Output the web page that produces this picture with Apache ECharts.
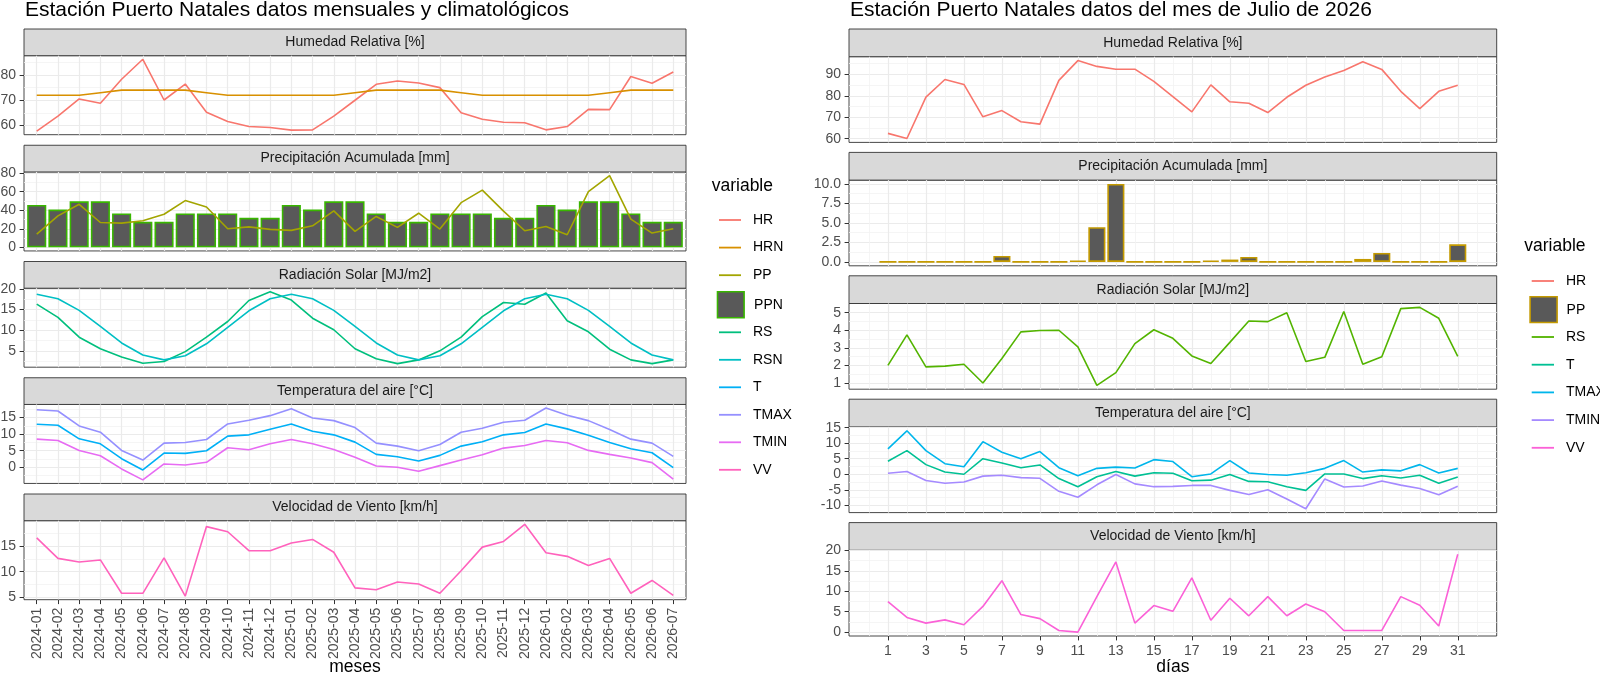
<!DOCTYPE html>
<html><head><meta charset="utf-8">
<script src="https://cdn.jsdelivr.net/npm/echarts@6/dist/echarts.min.js"></script>
<style>html,body{margin:0;padding:0;background:#fff}#c{width:1600px;height:676px}</style>
</head><body><div id="c"></div>
<script>
// ---------- DATA: monthly (left) ----------
const months = ['2024-01','2024-02','2024-03','2024-04','2024-05','2024-06','2024-07','2024-08','2024-09','2024-10','2024-11','2024-12',
  '2025-01','2025-02','2025-03','2025-04','2025-05','2025-06','2025-07','2025-08','2025-09','2025-10','2025-11','2025-12',
  '2026-01','2026-02','2026-03','2026-04','2026-05','2026-06','2026-07'];
const HR_m  = [57.8,63.7,70.5,68.8,78.3,86.2,70.1,76.4,65.3,61.6,59.6,59.2,58.2,58.3,63.7,70.0,76.3,77.6,76.8,75.0,65.1,62.5,61.3,61.1,58.3,59.6,66.4,66.3,79.4,76.7,81.2];
const HRN_m = [72,72,72,73,74,74,74,74,73,72,72,72,72,72,72,73,74,74,74,74,73,72,72,72,72,72,72,73,74,74,74];
const PP_m  = [14.3,33.9,46.4,26.8,26.1,28.6,35.7,50.4,43.5,20.0,22.1,19.4,18.3,23.2,39.3,17.2,33.3,21.5,36.8,19.7,48.2,61.7,39.0,17.9,22.5,13.6,60.0,77.4,30.4,15.4,20.0];
const PPN_m = [45.7,40.7,49.6,49.6,36.5,27.5,27.5,36.5,36.5,36.5,31.8,31.8,45.7,40.7,49.6,49.6,36.5,27.5,27.5,36.5,36.5,36.5,31.8,31.8,45.7,40.7,49.6,49.6,36.5,27.5,27.5];
const RS_m  = [16.3,13.1,8.3,5.5,3.5,2.0,2.4,4.8,8.3,12.1,17.2,19.3,17.3,12.9,10.1,5.5,3.1,1.9,2.8,5.0,8.3,13.3,16.7,16.3,19.0,12.3,9.6,5.4,2.8,1.9,2.8];
const RSN_m = [18.7,17.6,14.8,10.9,6.9,4.0,2.8,3.8,6.7,10.7,14.7,17.6,18.7,17.6,14.8,10.9,6.9,4.0,2.8,3.8,6.7,10.7,14.7,17.6,18.7,17.6,14.8,10.9,6.9,4.0,2.8];
const T_m    = [13.0,12.7,8.6,7.1,2.6,-0.8,4.3,4.2,5.0,9.4,9.8,11.5,13.1,10.9,9.8,7.6,3.9,3.2,1.9,3.6,6.4,7.7,9.8,10.5,13.1,11.6,9.7,7.5,5.6,4.4,-0.1];
const TMAX_m = [17.4,17.0,12.5,10.6,5.1,2.2,7.3,7.5,8.4,13.1,14.2,15.6,17.7,14.9,14.1,12.0,7.3,6.4,5.0,6.9,10.6,11.8,13.6,14.2,17.9,15.7,14.1,11.4,8.5,7.3,3.3];
const TMIN_m = [8.5,8.1,5.1,3.5,-0.5,-3.8,1.0,0.7,1.5,5.9,5.3,7.1,8.4,7.1,5.4,3.0,0.4,0.0,-1.2,0.5,2.2,3.8,5.8,6.6,8.1,7.4,5.1,3.9,2.8,1.4,-3.6];
const VV_m  = [16.6,12.6,11.9,12.3,5.8,5.8,12.7,5.25,18.8,17.8,14.1,14.1,15.6,16.3,13.8,6.85,6.5,8.0,7.6,5.8,10.2,14.8,15.9,19.25,13.7,13.0,11.2,12.6,5.8,8.3,5.4];

// ---------- DATA: daily (right) ----------
const days = [1,2,3,4,5,6,7,8,9,10,11,12,13,14,15,16,17,18,19,20,21,22,23,24,25,26,27,28,29,30,31];
const HR_d  = [62.5,60.1,79.4,87.6,85.3,70.2,73.1,67.9,66.8,87.2,96.4,93.7,92.4,92.4,86.7,79.6,72.5,85.1,77.2,76.5,72.2,79.3,84.9,88.8,91.8,95.9,92.3,82.1,74.0,82.1,84.9];
const PP_d  = [0,0,0,0,0,0,0.77,0,0,0,0.15,4.46,10.0,0,0,0,0,0.15,0.3,0.64,0,0,0,0,0,0.38,1.15,0,0,0,2.26];
const RS_d  = [2.0,3.74,1.92,1.96,2.07,1.0,2.39,3.91,3.99,4.0,3.05,0.87,1.59,3.24,4.03,3.54,2.54,2.11,3.31,4.53,4.49,5.0,2.22,2.46,5.07,2.07,2.49,5.23,5.3,4.68,2.52];
const T_d    = [4.2,7.6,3.1,0.7,0.0,5.0,3.6,2.1,3.0,-1.4,-4.0,-0.8,0.9,-0.6,0.5,0.3,-2.1,-1.9,-0.1,-2.3,-2.4,-4.0,-5.2,0.1,0.1,-1.4,-0.5,-1.2,-0.3,-2.9,-0.9];
const TMAX_d = [8.2,14.0,7.6,3.4,2.4,10.5,7.1,5.0,7.3,2.1,-0.5,1.9,2.3,2.0,4.7,4.1,-0.8,0.1,4.4,0.4,-0.1,-0.3,0.5,1.9,4.4,0.7,1.4,1.1,3.1,0.4,1.9];
const TMIN_d = [0.3,0.9,-2.0,-2.9,-2.5,-0.6,-0.3,-1.1,-1.3,-5.5,-7.4,-3.4,-0.1,-3.1,-4.0,-3.9,-3.6,-3.6,-5.2,-6.5,-5.0,-8.0,-11.1,-1.5,-4.1,-3.8,-2.2,-3.5,-4.6,-6.6,-3.9];
const VV_d  = [7.5,3.6,2.2,3.0,1.8,6.3,12.6,4.3,3.3,0.4,0.0,8.7,17.2,2.2,6.5,5.1,13.3,2.9,8.3,4.0,8.7,4.0,6.9,5.0,0.4,0.4,0.4,8.7,6.6,1.5,19.1];

// ---------- ticks ----------
const dayTicks  = [1,3,5,7,9,11,13,15,17,19,21,23,25,27,29,31];
const dayMinor  = [0,2,4,6,8,10,12,14,16,18,20,22,24,26,28,30,32];
const yTicksL = [[60,70,80],[0,20,40,60,80],[5,10,15,20],[0,5,10,15],[5,10,15]];
const yMinorL = [[55,65,75,85],[10,30,50,70],[2.5,7.5,12.5,17.5],[-2.5,2.5,7.5,12.5,17.5],[7.5,12.5,17.5]];
const yTicksR = [[60,70,80,90],[0,2.5,5,7.5,10],[1,2,3,4,5],[-10,-5,0,5,10,15],[0,5,10,15,20]];
const yMinorR = [[65,75,85,95],[1.25,3.75,6.25,8.75],[1.5,2.5,3.5,4.5],[-7.5,-2.5,2.5,7.5,12.5],[2.5,7.5,12.5,17.5]];
const stripText = ['Humedad Relativa [%]','Precipitación Acumulada [mm]','Radiación Solar [MJ/m2]','Temperatura del aire [°C]','Velocidad de Viento [km/h]'];

// ---------- layout ----------
const FONT = '"Liberation Sans", Arial, Helvetica, sans-serif';
const L = {x0:24, x1:686, s0:29, step:116.25, sh:26.7, ph:79};
const R = {x0:849, x1:1496.7, s0:29, step:123.4, sh:27.7, ph:85.7};
const MAJ = '#EBEBEB', MIN = '#F3F3F3';
const SMALL = 14;

function rng(arrs, zero){
  let lo = Infinity, hi = -Infinity;
  arrs.forEach(a => a.forEach(v => { lo = Math.min(lo, v); hi = Math.max(hi, v); }));
  if (zero) lo = Math.min(lo, 0);
  const r = hi - lo; return [lo - 0.05*r, hi + 0.05*r];
}

const grids = [], xAxis = [], yAxis = [], series = [], graphic = [];

function addPanel(P, k, xmin, xmax, xMajor, xMinor, xLabelFmt, bottom, yr, yMaj, yMin, yFmt, rotate){
  const gi = grids.length;
  const st = P.s0 + k*P.step;
  grids.push({left:P.x0, top:st+P.sh, width:P.x1-P.x0, height:P.ph, show:true,
    backgroundColor:'#FFFFFF', borderColor:'#333333', borderWidth:0.9, outerBoundsMode:'none', containLabel:false});
  graphic.push({type:'rect', shape:{x:P.x0, y:st, width:P.x1-P.x0, height:P.sh},
    style:{fill:'#D9D9D9', stroke:'#333333', lineWidth:0.9}, silent:true});
  graphic.push({type:'text', x:(P.x0+P.x1)/2, y:st+P.sh/2, silent:true,
    style:{text:stripText[k], fontSize:SMALL, fontFamily:FONT, fill:'#1A1A1A', align:'center', verticalAlign:'middle'}});
  const xi = xAxis.length;
  xAxis.push({type:'value', gridIndex:gi, min:xmin, max:xmax, position:'bottom',
    axisLine:{show:false, onZero:false},
    axisTick:{show:bottom, customValues:xMajor, length:4.4, lineStyle:{color:'#333333', width:1}},
    axisLabel:{show:bottom, customValues:xMajor, formatter:xLabelFmt, rotate:rotate, fontSize:SMALL, fontFamily:FONT, color:'#4D4D4D', margin:8},
    splitLine:{show:true, lineStyle:{color:MAJ, width:1.2}}});
  if (xMinor){
    xAxis.push({type:'value', gridIndex:gi, min:xmin, max:xmax, position:'top',
      axisLine:{show:false, onZero:false}, axisTick:{show:false, customValues:xMinor}, axisLabel:{show:false},
      splitLine:{show:true, lineStyle:{color:MIN, width:0.8}}});
  }
  const yi = yAxis.length;
  yAxis.push({type:'value', gridIndex:gi, min:yr[0], max:yr[1], position:'left',
    axisLine:{show:false, onZero:false},
    axisTick:{show:true, customValues:yMaj, length:4.4, lineStyle:{color:'#333333', width:1}},
    axisLabel:{customValues:yMaj, formatter:yFmt, fontSize:SMALL, fontFamily:FONT, color:'#4D4D4D', margin:8},
    splitLine:{show:true, lineStyle:{color:MAJ, width:1.2}}});
  yAxis.push({type:'value', gridIndex:gi, min:yr[0], max:yr[1], position:'right',
    axisLine:{show:false, onZero:false}, axisTick:{show:false, customValues:yMin}, axisLabel:{show:false},
    splitLine:{show:true, lineStyle:{color:MIN, width:0.8}}});
  return {xi, yi};
}

function line(name, ax, xs, vals, color){
  series.push({type:'line', name, xAxisIndex:ax.xi, yAxisIndex:ax.yi, data:vals.map((v,i)=>[xs[i], v]),
    symbol:'none', showSymbol:false, lineStyle:{width:1.6, color}, itemStyle:{color}, emphasis:{disabled:true}, silent:true, z:3});
}
function bar(name, ax, xs, vals, border, bw){
  series.push({type:'bar', name, xAxisIndex:ax.xi, yAxisIndex:ax.yi, data:vals.map((v,i)=>[xs[i], v]),
    barWidth:bw, itemStyle:{color:'#595959', borderColor:border, borderWidth:1.6}, emphasis:{disabled:true}, silent:true, z:2});
}

// ---- left panels ----
const mIdx = months.map((_, i) => i);
const mFmt = v => months[Math.round(v)];
const intFmt = v => String(v);
const lxmin = -0.6, lxmax = mIdx.length - 1 + 0.6;
const lbw = (L.x1 - L.x0) / (lxmax - lxmin) * 0.9;
let a;
a = addPanel(L, 0, lxmin, lxmax, mIdx, null, mFmt, false, rng([HR_m, HRN_m]), yTicksL[0], yMinorL[0], intFmt, 90);
line('HR', a, mIdx, HR_m, '#F8766D'); line('HRN', a, mIdx, HRN_m, '#D89000');
a = addPanel(L, 1, lxmin, lxmax, mIdx, null, mFmt, false, rng([PP_m, PPN_m], true), yTicksL[1], yMinorL[1], intFmt, 90);
bar('PPN', a, mIdx, PPN_m, '#39B600', lbw); line('PP', a, mIdx, PP_m, '#A3A500');
a = addPanel(L, 2, lxmin, lxmax, mIdx, null, mFmt, false, rng([RS_m, RSN_m]), yTicksL[2], yMinorL[2], intFmt, 90);
line('RS', a, mIdx, RS_m, '#00BF7D'); line('RSN', a, mIdx, RSN_m, '#00BFC4');
a = addPanel(L, 3, lxmin, lxmax, mIdx, null, mFmt, false, rng([T_m, TMAX_m, TMIN_m]), yTicksL[3], yMinorL[3], intFmt, 90);
line('T', a, mIdx, T_m, '#00B0F6'); line('TMAX', a, mIdx, TMAX_m, '#9590FF'); line('TMIN', a, mIdx, TMIN_m, '#E76BF3');
a = addPanel(L, 4, lxmin, lxmax, mIdx, null, mFmt, true, rng([VV_m]), yTicksL[4], yMinorL[4], intFmt, 90);
line('VV', a, mIdx, VV_m, '#FF62BC');

// ---- right panels ----
const rxmin = days[0] - 0.5 - 0.05*(days.length), rxmax = days[days.length-1] + 0.5 + 0.05*(days.length);
const rbw = (R.x1 - R.x0) / (rxmax - rxmin) * 0.9;
const fix1 = v => v.toFixed(1);
a = addPanel(R, 0, rxmin, rxmax, dayTicks, dayMinor, intFmt, false, rng([HR_d]), yTicksR[0], yMinorR[0], intFmt, 0);
line('HR_d', a, days, HR_d, '#F8766D');
a = addPanel(R, 1, rxmin, rxmax, dayTicks, dayMinor, intFmt, false, rng([PP_d], true), yTicksR[1], yMinorR[1], fix1, 0);
bar('PP_d', a, days, PP_d, '#C49A00', rbw);
a = addPanel(R, 2, rxmin, rxmax, dayTicks, dayMinor, intFmt, false, rng([RS_d]), yTicksR[2], yMinorR[2], intFmt, 0);
line('RS_d', a, days, RS_d, '#53B400');
a = addPanel(R, 3, rxmin, rxmax, dayTicks, dayMinor, intFmt, false, rng([T_d, TMAX_d, TMIN_d]), yTicksR[3], yMinorR[3], intFmt, 0);
line('T_d', a, days, T_d, '#00C094'); line('TMAX_d', a, days, TMAX_d, '#00B6EB'); line('TMIN_d', a, days, TMIN_d, '#A58AFF');
a = addPanel(R, 4, rxmin, rxmax, dayTicks, dayMinor, intFmt, true, rng([VV_d]), yTicksR[4], yMinorR[4], intFmt, 0);
line('VV_d', a, days, VV_d, '#FB61D7');

// ---- titles & axis names ----
function txt(x, y, s, size, align, color){
  graphic.push({type:'text', x, y, silent:true,
    style:{text:s, fontSize:size, fontFamily:FONT, fill:color, align, verticalAlign:'middle'}});
}
txt(L.x0+1, 10.5, 'Estación Puerto Natales datos mensuales y climatológicos', 21, 'left', '#000000');
txt(R.x0+1, 10.5, 'Estación Puerto Natales datos del mes de Julio de 2026', 21, 'left', '#000000');
txt((L.x0+L.x1)/2, 667, 'meses', 17.5, 'center', '#000000');
txt((R.x0+R.x1)/2, 667, 'días', 17.5, 'center', '#000000');
txt(711.7, 186, 'variable', 17.5, 'left', '#000000');
txt(1524.3, 246, 'variable', 17.5, 'left', '#000000');

// ---- legends ----
const legTxt = {fontSize:SMALL, fontFamily:FONT, color:'#000000'};
const stripD = n => n.replace('_d', '');
const keyLine = 'path://M0,0H22V1.8H0Z';
const li = n => ({name:n, icon:keyLine});
const legend = [
  {orient:'vertical', left:714, top:208, itemWidth:22, itemHeight:14, itemGap:13.6, selectedMode:false,
   itemStyle:{borderWidth:0}, data:['HR','HRN','PP'].map(li), textStyle:Object.assign({padding:[0,0,0,7]}, legTxt)},
  {orient:'vertical', left:711.7, top:286, itemWidth:26.6, itemHeight:26, selectedMode:false,
   data:[{name:'PPN', icon:'rect'}], itemStyle:{color:'#595959', borderColor:'#39B600', borderWidth:1.6},
   textStyle:Object.assign({padding:[0,0,0,5]}, legTxt)},
  {orient:'vertical', left:714, top:320.3, itemWidth:22, itemHeight:14, itemGap:13.5, selectedMode:false,
   itemStyle:{borderWidth:0}, data:['RS','RSN','T','TMAX','TMIN','VV'].map(li), textStyle:Object.assign({padding:[0,0,0,7]}, legTxt)},
  {orient:'vertical', left:1526.7, top:269, itemWidth:22.3, itemHeight:14, itemGap:13.7, selectedMode:false,
   itemStyle:{borderWidth:0}, data:['HR_d'].map(li), formatter:stripD, textStyle:Object.assign({padding:[0,0,0,7]}, legTxt)},
  {orient:'vertical', left:1524.3, top:291, itemWidth:27, itemHeight:25.7, selectedMode:false,
   data:[{name:'PP_d', icon:'rect'}], formatter:stripD, itemStyle:{color:'#595959', borderColor:'#C49A00', borderWidth:1.6},
   textStyle:Object.assign({padding:[0,0,0,4.5]}, legTxt)},
  {orient:'vertical', left:1526.7, top:325, itemWidth:22.3, itemHeight:14, itemGap:13.7, selectedMode:false,
   itemStyle:{borderWidth:0}, data:['RS_d','T_d','TMAX_d','TMIN_d','VV_d'].map(li), formatter:stripD, textStyle:Object.assign({padding:[0,0,0,7]}, legTxt)}
];

const chart = echarts.init(document.getElementById('c'), null, {renderer:'canvas'});
chart.setOption({
  animation:false, backgroundColor:'#FFFFFF', textStyle:{fontFamily:FONT},
  grid:grids, xAxis, yAxis, series, legend, graphic, tooltip:{show:false}
});
</script>
</body></html>
